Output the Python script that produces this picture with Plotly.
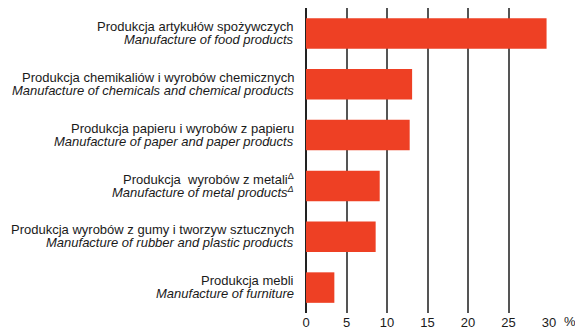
import plotly.graph_objects as go

# Share of sales by industry division, %
labels_pl = [
    "Produkcja artykułów spożywczych",
    "Produkcja chemikaliów i wyrobów chemicznych",
    "Produkcja papieru i wyrobów z papieru",
    "Produkcja  wyrobów z metali<sup>Δ</sup>",
    "Produkcja wyrobów z gumy i tworzyw sztucznych",
    "Produkcja mebli",
]
labels_en = [
    "Manufacture of food products",
    "Manufacture of chemicals and chemical products",
    "Manufacture of paper and paper products",
    "Manufacture of metal products<sup>Δ</sup>",
    "Manufacture of rubber and plastic products",
    "Manufacture of furniture",
]
values = [29.7, 13.1, 12.8, 9.1, 8.6, 3.5]
x_ticks = [0, 5, 10, 15, 20, 25, 30]

cats = [str(i) for i in range(len(values))]
BAR = "#EE4024"
LABEL_FONT = dict(family="Liberation Sans Narrow, Arial Narrow, Liberation Sans, Arial", size=13, color="#1a1a1a")

fig = go.Figure(
    go.Bar(
        x=values,
        y=cats,
        orientation="h",
        marker=dict(color=BAR, line=dict(width=0)),
        width=0.6,
    )
)

annotations = []
for c, pl, en in zip(cats, labels_pl, labels_en):
    annotations.append(dict(
        x=0, y=c, xref="x", yref="y", text=pl, showarrow=False,
        xanchor="right", yanchor="middle", xshift=-10, yshift=7,
        font=LABEL_FONT,
    ))
    annotations.append(dict(
        x=0, y=c, xref="x", yref="y", text="<i>" + en + "</i>", showarrow=False,
        xanchor="right", yanchor="middle", xshift=-10, yshift=-6,
        font=LABEL_FONT,
    ))
annotations.append(dict(
    x=1, y=0, xref="paper", yref="paper", text="%", showarrow=False,
    xanchor="left", yanchor="top", xshift=13, yshift=1,
    font=dict(family="Liberation Sans, Arial", size=13, color="#1a1a1a"),
))

fig.update_layout(
    width=575, height=329,
    margin=dict(l=305.5, r=26.3, t=8, b=16, autoexpand=False),
    paper_bgcolor="white", plot_bgcolor="white",
    showlegend=False,
    bargap=0.4,
    annotations=annotations,
    xaxis=dict(
        range=[0, 30], tickvals=x_ticks, ticktext=[str(v) for v in x_ticks],
        showgrid=True, gridcolor="#555555", gridwidth=1.5,
        zeroline=True, zerolinecolor="#222222", zerolinewidth=1.5,
        showline=False, ticks="", automargin=False,
        tickfont=dict(family="Liberation Sans, Arial", size=13, color="#1a1a1a"),
    ),
    yaxis=dict(
        categoryorder="array", categoryarray=cats, autorange="reversed",
        showticklabels=False, showgrid=False, zeroline=False, showline=False, ticks="",
        automargin=False,
    ),
)

fig.write_html("out.html")
